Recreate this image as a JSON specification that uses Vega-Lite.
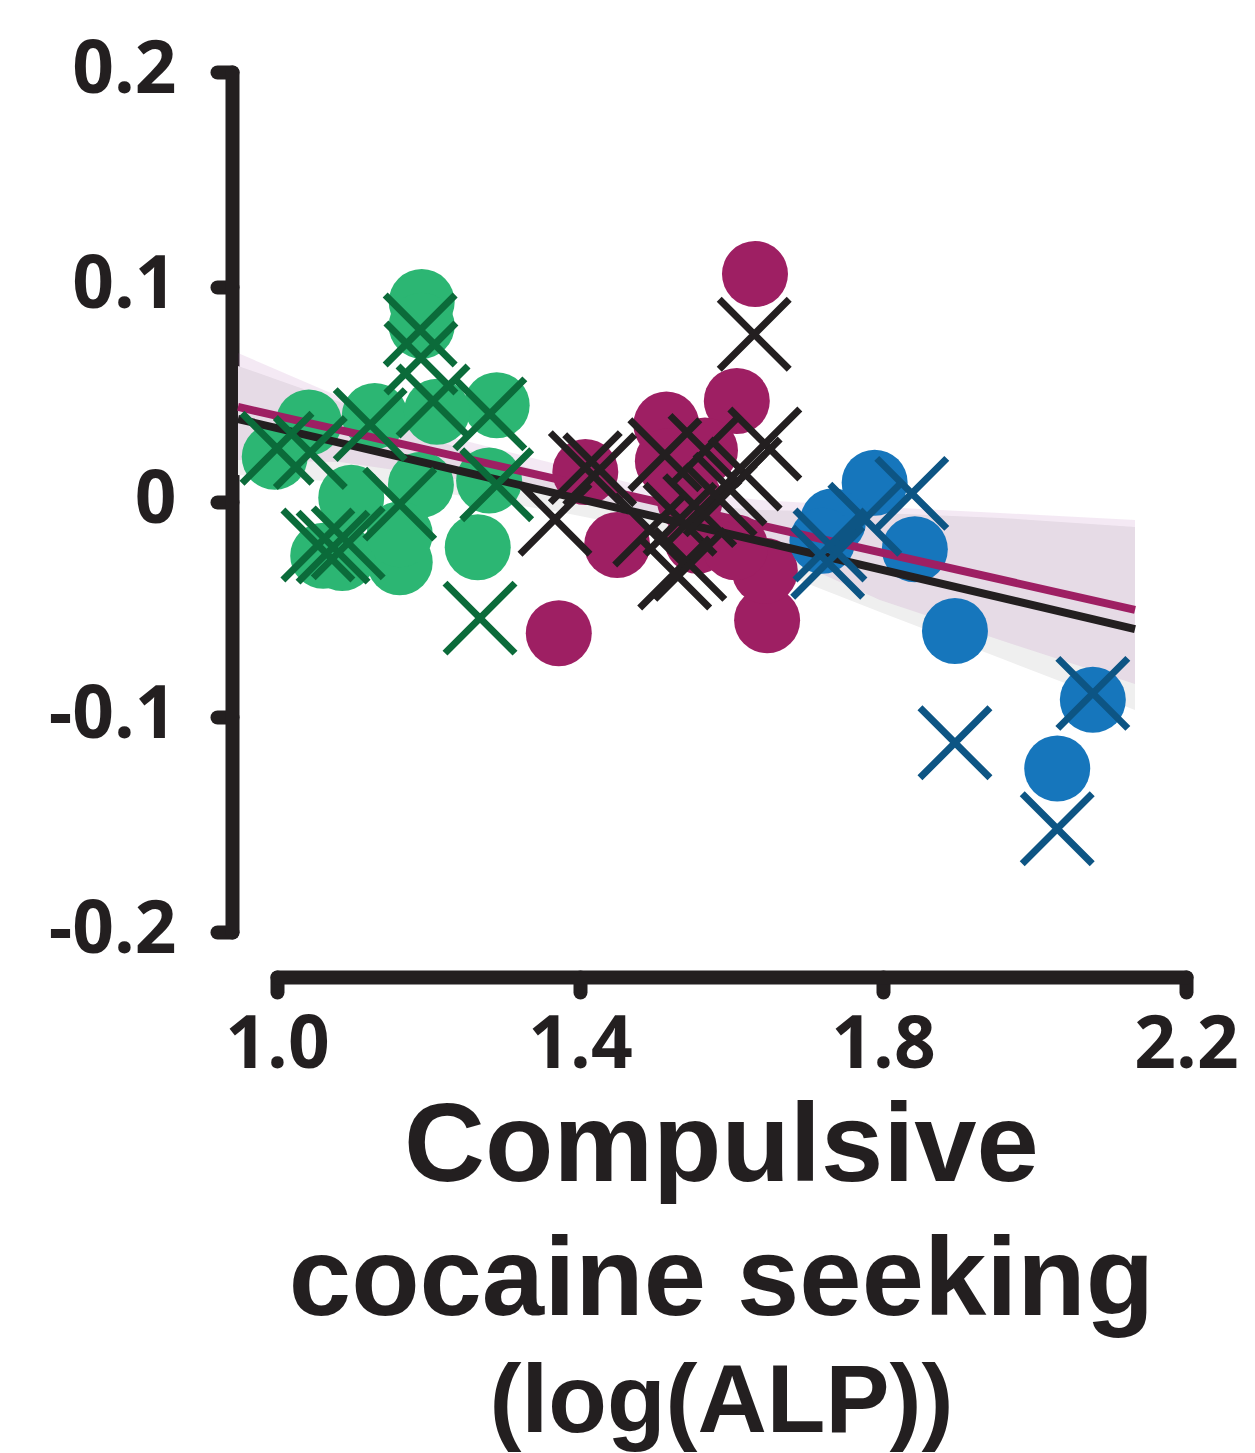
{
  "$schema": "https://vega.github.io/schema/vega-lite/v6.json",
  "width": 909,
  "height": 860,
  "autosize": {"type": "none"},
  "padding": {"left": 277, "top": 72, "right": 69, "bottom": 521},
  "background": "white",
  "config": {
    "view": {"stroke": null},
    "axis": {
      "domainColor": "#231f20", "domainWidth": 14, "domainCap": "round",
      "tickColor": "#231f20", "tickWidth": 14, "tickSize": 15, "tickCap": "round",
      "labelFont": "Open Sans", "labelFontSize": 73, "labelFontWeight": "bold", "labelColor": "#231f20",
      "grid": false, "labelFlush": false, "labelOverlap": false, "labelBound": false
    }
  },
  "title": {
    "text": ["Compulsive", "cocaine seeking"],
    "subtitle": "(log(ALP))",
    "orient": "bottom", "anchor": "middle", "frame": "group",
    "font": "Liberation Sans", "fontSize": 112, "fontWeight": "bold", "lineHeight": 134, "color": "#231f20",
    "subtitleFont": "Liberation Sans", "subtitleFontSize": 96, "subtitleFontWeight": "bold", "subtitleColor": "#231f20",
    "subtitlePadding": 17, "offset": 11, "dx": -10
  },
  "datasets": {
    "band_black": [
      {"x": 0.9485, "hi": 0.0633, "lo": 0.0126},
      {"x": 1.0832, "hi": 0.0465, "lo": 0.0093},
      {"x": 1.2284, "hi": 0.0265, "lo": 0.0037},
      {"x": 1.3736, "hi": 0.0116, "lo": -0.0047},
      {"x": 1.4924, "hi": 0.0, "lo": -0.013},
      {"x": 1.6376, "hi": -0.0037, "lo": -0.0293},
      {"x": 1.796, "hi": -0.0051, "lo": -0.0512},
      {"x": 1.9545, "hi": -0.0074, "lo": -0.0726},
      {"x": 2.1327, "hi": -0.0116, "lo": -0.0967}
    ],
    "band_magenta": [
      {"x": 0.9485, "hi": 0.0693, "lo": 0.0195},
      {"x": 1.0832, "hi": 0.0488, "lo": 0.0186},
      {"x": 1.2284, "hi": 0.0302, "lo": 0.0112},
      {"x": 1.3736, "hi": 0.0172, "lo": 0.0028},
      {"x": 1.4924, "hi": 0.0065, "lo": -0.0051},
      {"x": 1.6376, "hi": 0.0009, "lo": -0.0205},
      {"x": 1.796, "hi": -0.0023, "lo": -0.0456},
      {"x": 1.9545, "hi": -0.0051, "lo": -0.0642},
      {"x": 2.1327, "hi": -0.0084, "lo": -0.0847}
    ],
    "fits": [
      {"x": 0.9485, "y": 0.0442, "fit": "magenta"},
      {"x": 2.1327, "y": -0.0502, "fit": "magenta"},
      {"x": 0.9485, "y": 0.0386, "fit": "black"},
      {"x": 2.1327, "y": -0.0591, "fit": "black"}
    ],
    "circles": [
      {"x": 1.191, "y": 0.093, "group": "green"},
      {"x": 1.191, "y": 0.082, "group": "green"},
      {"x": 1.042, "y": 0.037, "group": "green"},
      {"x": 0.997, "y": 0.021, "group": "green"},
      {"x": 1.129, "y": 0.04, "group": "green"},
      {"x": 1.29, "y": 0.045, "group": "green"},
      {"x": 1.211, "y": 0.042, "group": "green"},
      {"x": 1.19, "y": 0.008, "group": "green"},
      {"x": 1.28, "y": 0.01, "group": "green"},
      {"x": 1.098, "y": 0.002, "group": "green"},
      {"x": 1.265, "y": -0.021, "group": "green"},
      {"x": 1.162, "y": -0.028, "group": "green"},
      {"x": 1.061, "y": -0.025, "group": "green"},
      {"x": 1.086, "y": -0.026, "group": "green"},
      {"x": 1.162, "y": -0.015, "group": "green"},
      {"x": 1.631, "y": 0.106, "group": "magenta"},
      {"x": 1.607, "y": 0.047, "group": "magenta"},
      {"x": 1.514, "y": 0.036, "group": "magenta"},
      {"x": 1.407, "y": 0.014, "group": "magenta"},
      {"x": 1.516, "y": 0.019, "group": "magenta"},
      {"x": 1.565, "y": 0.024, "group": "magenta"},
      {"x": 1.449, "y": -0.02, "group": "magenta"},
      {"x": 1.372, "y": -0.061, "group": "magenta"},
      {"x": 1.647, "y": -0.055, "group": "magenta"},
      {"x": 1.644, "y": -0.032, "group": "magenta"},
      {"x": 1.555, "y": -0.018, "group": "magenta"},
      {"x": 1.605, "y": -0.021, "group": "magenta"},
      {"x": 1.545, "y": 0.001, "group": "magenta"},
      {"x": 1.789, "y": 0.009, "group": "blue"},
      {"x": 1.734, "y": -0.009, "group": "blue"},
      {"x": 1.842, "y": -0.022, "group": "blue"},
      {"x": 1.895, "y": -0.06, "group": "blue"},
      {"x": 2.077, "y": -0.092, "group": "blue"},
      {"x": 2.03, "y": -0.124, "group": "blue"},
      {"x": 1.72, "y": -0.018, "group": "blue"}
    ],
    "crosses": [
      {"x": 1.0, "y": 0.025, "group": "green"},
      {"x": 1.044, "y": 0.023, "group": "green"},
      {"x": 1.123, "y": 0.036, "group": "green"},
      {"x": 1.189, "y": 0.08, "group": "green"},
      {"x": 1.19, "y": 0.067, "group": "green"},
      {"x": 1.206, "y": 0.047, "group": "green"},
      {"x": 1.281, "y": 0.041, "group": "green"},
      {"x": 1.162, "y": -0.001, "group": "green"},
      {"x": 1.29, "y": 0.008, "group": "green"},
      {"x": 1.054, "y": -0.02, "group": "green"},
      {"x": 1.074, "y": -0.021, "group": "green"},
      {"x": 1.094, "y": -0.019, "group": "green"},
      {"x": 1.268, "y": -0.054, "group": "green"},
      {"x": 1.63, "y": 0.078, "group": "black"},
      {"x": 1.367, "y": -0.008, "group": "black"},
      {"x": 1.407, "y": 0.016, "group": "black"},
      {"x": 1.426, "y": 0.015, "group": "black"},
      {"x": 1.512, "y": 0.022, "group": "black"},
      {"x": 1.565, "y": 0.024, "group": "black"},
      {"x": 1.644, "y": 0.027, "group": "black"},
      {"x": 1.618, "y": 0.013, "group": "black"},
      {"x": 1.598, "y": 0.006, "group": "black"},
      {"x": 1.532, "y": -0.008, "group": "black"},
      {"x": 1.558, "y": -0.004, "group": "black"},
      {"x": 1.525, "y": -0.033, "group": "black"},
      {"x": 1.545, "y": -0.029, "group": "black"},
      {"x": 1.585, "y": 0.001, "group": "black"},
      {"x": 1.492, "y": -0.013, "group": "black"},
      {"x": 1.838, "y": 0.004, "group": "blue"},
      {"x": 1.776, "y": -0.008, "group": "blue"},
      {"x": 1.73, "y": -0.02, "group": "blue"},
      {"x": 1.727, "y": -0.028, "group": "blue"},
      {"x": 1.895, "y": -0.112, "group": "blue"},
      {"x": 2.03, "y": -0.152, "group": "blue"},
      {"x": 2.077, "y": -0.089, "group": "blue"}
    ]
  },
  "resolve": {"scale": {"color": "independent"}},
  "layer": [
    {
      "data": {"name": "band_black"},
      "mark": {"type": "area", "color": "#efefef", "opacity": 1},
      "encoding": {
        "x": {"field": "x", "type": "quantitative", "scale": {"domain": [1.0, 2.2], "nice": false, "zero": false},
              "axis": {"values": [1.0, 1.4, 1.8, 2.2], "format": ".1f", "offset": 45, "labelPadding": 75, "labelBaseline": "alphabetic", "title": null}},
        "y": {"field": "hi", "type": "quantitative", "scale": {"domain": [-0.2, 0.2], "nice": false, "zero": false},
              "axis": {"values": [-0.2, -0.1, 0, 0.1, 0.2], "labelExpr": "datum.value == 0 ? '0' : (datum.value < 0 ? '-' + format(-datum.value, '.1f') : format(datum.value, '.1f'))", "offset": 45, "labelPadding": 41, "labelBaseline": "alphabetic", "labelOffset": 20, "title": null}},
        "y2": {"field": "lo"}
      }
    },
    {
      "data": {"name": "band_magenta"},
      "mark": {"type": "area", "color": "#a850a8", "opacity": 0.125},
      "encoding": {
        "x": {"field": "x", "type": "quantitative"},
        "y": {"field": "hi", "type": "quantitative"},
        "y2": {"field": "lo"}
      }
    },
    {
      "data": {"name": "circles"},
      "mark": {"type": "point", "shape": "circle", "filled": true, "size": 4356, "opacity": 1, "strokeWidth": 0},
      "encoding": {
        "x": {"field": "x", "type": "quantitative"},
        "y": {"field": "y", "type": "quantitative"},
        "color": {"field": "group", "type": "nominal", "legend": null,
                  "scale": {"domain": ["green", "magenta", "blue"], "range": ["#2cb673", "#9e1f63", "#1676bc"]}}
      }
    },
    {
      "data": {"name": "fits"},
      "mark": {"type": "line", "strokeWidth": 8, "strokeCap": "butt"},
      "encoding": {
        "x": {"field": "x", "type": "quantitative"},
        "y": {"field": "y", "type": "quantitative"},
        "color": {"field": "fit", "type": "nominal", "legend": null,
                  "scale": {"domain": ["magenta", "black"], "range": ["#9e1f63", "#231f20"]}}
      }
    },
    {
      "data": {"name": "crosses"},
      "mark": {"type": "point", "shape": "M-1,-1L1,1M-1,1L1,-1", "filled": false, "size": 4900, "opacity": 1, "strokeWidth": 7, "strokeCap": "butt"},
      "encoding": {
        "x": {"field": "x", "type": "quantitative"},
        "y": {"field": "y", "type": "quantitative"},
        "color": {"field": "group", "type": "nominal", "legend": null,
                  "scale": {"domain": ["green", "black", "blue"], "range": ["#0b6b3a", "#231f20", "#0d5584"]}}
      }
    }
  ]
}
